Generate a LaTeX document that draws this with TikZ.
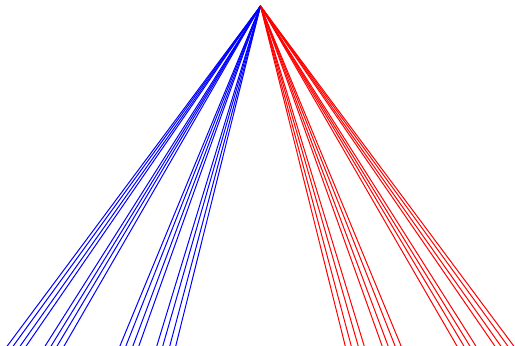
\documentclass[tikz,border=0pt]{standalone}
\usepackage{tikz}

\tikzset{
    leftray/.style={blue, line width=0.5pt},
    rightray/.style={red, line width=0.5pt}
}

\begin{document}
\begin{tikzpicture}[x=0.5pt, y=-0.5pt]
\useasboundingbox (0,0) rectangle (515,346);

% === Vértice común ===
\coordinate (apex) at (260.5,6);

% === Rayos azules y rojos ===
\foreach \d [count=\i] in {85,91,98,104,122,128,135,141,197,204,210,216,235,241,248,254} {
    \coordinate (l\i) at (260.5-\d,347);
    \coordinate (r\i) at (260.5+\d,347);
    \draw[leftray] (apex) -- (l\i);
    \draw[rightray] (apex) -- (r\i);
}
\end{tikzpicture}
\end{document}
